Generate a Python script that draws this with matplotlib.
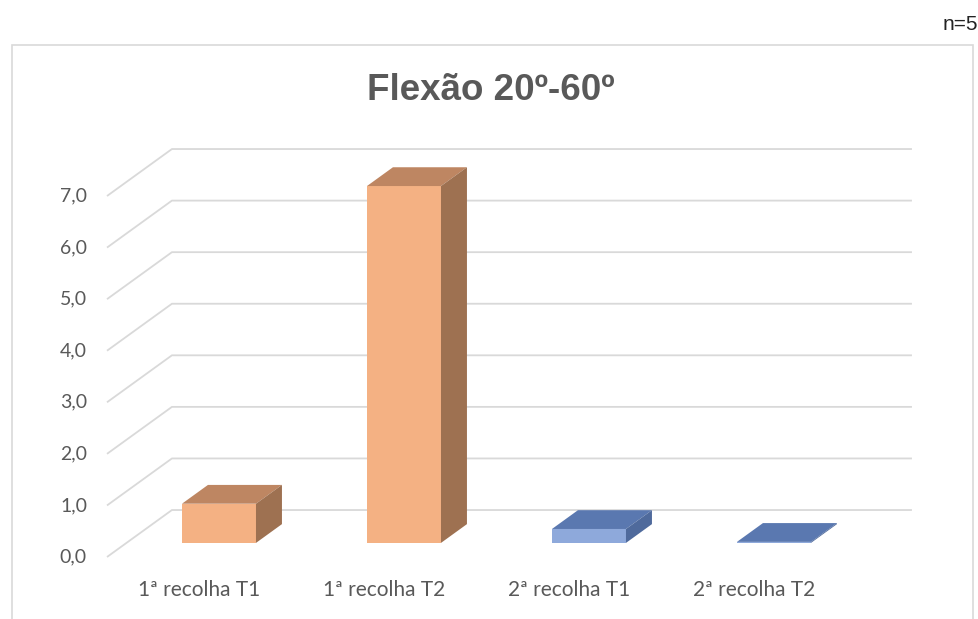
"""Flexão 20º-60º: Excel-style 3D column chart."""
import matplotlib
matplotlib.use("Agg")
import matplotlib.pyplot as plt
from matplotlib.patches import Polygon, Rectangle

categories = ["1ª recolha T1", "1ª recolha T2", "2ª recolha T1", "2ª recolha T2"]
values = [0.76, 6.92, 0.27, 0.02]
series = ["1ª recolha", "1ª recolha", "2ª recolha", "2ª recolha"]
yticks = [0, 1, 2, 3, 4, 5, 6, 7]
title = "Flexão 20º-60º"
note = "n=5"

# face colours per series: front, top, side
FACES = {
    "1ª recolha": ("#F4B183", "#BE8662", "#9E7151"),
    "2ª recolha": ("#8EA9DB", "#5A78B0", "#4F6A9C"),
}
GRID = "#D9D9D9"
TEXT = "#595959"

# oblique projection: depth 1 = back wall
DX, DY = 0.351, 0.911
D0, D1 = 0.3, 0.7      # bar depth range
BW = 0.4               # bar width (fraction of slot)


def proj(x, v, d):
    return (x + DX * d, v + DY * d)


W, H = 979, 619
fig = plt.figure(figsize=(W / 100, H / 100), dpi=100)
ax = fig.add_axes([0, 0, 1, 1])
ax.set_axis_off()
# map pixels: front-left floor corner at (107, 557), 185 px per slot, 51.57 px per unit
SX, SY = 185.0, 51.57
ax.set_xlim(-107 / SX, (W - 107) / SX)
ax.set_ylim((557 - H) / SY, 557 / SY)

# chart border
fig.patches.append(Rectangle((12 / W, -0.01), (973 - 12) / W, 1 - 45 / H + 0.01,
                             transform=fig.transFigure, fill=False,
                             edgecolor=GRID, lw=1.2))

n = len(categories)
# gridlines: wall + side diagonals
for v in yticks:
    x0, y0 = proj(0, v, 0)
    x1, y1 = proj(0, v, 1)
    x2, y2 = proj(n, v, 1)
    ax.plot([x0, x1, x2], [y0, y1, y2], color=GRID, lw=1.3, zorder=1,
            solid_capstyle="butt")
    ax.text(x0 - 20 / SX, v, f"{v:.1f}".replace(".", ","), ha="right",
            va="center", fontsize=14, color=TEXT, family="Lato")

# bars
for i, (val, s) in enumerate(zip(values, series)):
    front, top, side = FACES[s]
    xa = i + 0.5 - BW / 2
    xb = i + 0.5 + BW / 2
    ax.add_patch(Polygon([proj(xa, 0, D0), proj(xb, 0, D0),
                          proj(xb, val, D0), proj(xa, val, D0)],
                         closed=True, facecolor=front, edgecolor="none", zorder=3))
    ax.add_patch(Polygon([proj(xa, val, D0), proj(xb, val, D0),
                          proj(xb, val, D1), proj(xa, val, D1)],
                         closed=True, facecolor=top, edgecolor="none", zorder=3))
    ax.add_patch(Polygon([proj(xb, 0, D0), proj(xb, val, D0),
                          proj(xb, val, D1), proj(xb, 0, D1)],
                         closed=True, facecolor=side, edgecolor="none", zorder=3))
    ax.text(i + 0.5, -33 / SY, categories[i], ha="center", va="center",
            fontsize=15, color=TEXT, family="Lato")

fig.text(491 / W, 1 - 90 / H, title, ha="center", va="center", fontsize=26.5,
         fontweight="bold", color=TEXT, family="Liberation Sans")
fig.text(978 / W, 1 - 25 / H, note, ha="right", va="center", fontsize=15,
         color="#222222", family="Liberation Sans")

fig.savefig("out.png", dpi=100, facecolor="white")
